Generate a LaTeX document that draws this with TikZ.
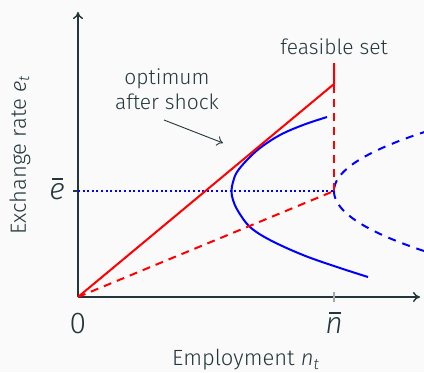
\documentclass[tikz,border=0pt]{standalone}
\usepackage{fontspec}
\setmainfont{Fira Sans}[UprightFont=* Light, ItalicFont=* Light Italic, BoldFont=* Medium]
\usetikzlibrary{arrows.meta}
\definecolor{bgc}{HTML}{FAFAFA}
\definecolor{axisc}{HTML}{23373B}
\definecolor{tickc}{HTML}{A8A8A8}
\newcommand\mvar[1]{\textit{#1}}
\newcommand\barvar[1]{\begingroup\setbox0\hbox{\textit{#1}}\dimen0=\wd0
  \vbox{\offinterlineskip\hbox to \dimen0{\hskip0.12\dimen0\hss\rule{0.72\dimen0}{0.055em}\hss}\kern0.12em\box0}\endgroup}
\tikzset{
  axisline/.style={draw=axisc, line width=0.7pt, -{To[length=3.5pt,width=5pt]}},
  redline/.style={draw=red, line width=1pt},
  reddash/.style={draw=red, line width=1pt, dash pattern=on 4pt off 3pt},
  blueline/.style={draw=blue, line width=1pt},
  bluedash/.style={draw=blue, line width=1pt, dash pattern=on 4pt off 3.5pt},
  bluedot/.style={draw=blue, line width=1.1pt, dash pattern=on 1pt off 1.3pt},
  ticklabel/.style={text=axisc, font=\fontsize{15}{17}\selectfont, inner sep=0pt},
  axislabel/.style={text=axisc, font=\fontsize{11}{13}\selectfont, inner sep=0pt},
  annot/.style={text=axisc, font=\fontsize{10.5}{12.5}\selectfont, inner sep=0pt, align=center},
  pointer/.style={draw=axisc, line width=0.45pt, -{To[length=3pt,width=5pt]}}
}
\begin{document}
\begin{tikzpicture}[x=0.5pt,y=-0.5pt]
\useasboundingbox (0,0) rectangle (424,372);
\fill[bgc] (0,0) rectangle (424,372);
\clip (0,0) rectangle (424,372);

% coordinates
\coordinate (O) at (78,297);
\coordinate (Ytop) at (78,12);
\coordinate (Xend) at (420,297);
\coordinate (K) at (334,84);
\coordinate (T) at (334,63);
\coordinate (E) at (334,191);
\coordinate (Y) at (78,191);
\coordinate (Yt) at (73,191);
\coordinate (Nt1) at (334,292);
\coordinate (Nt2) at (334,302);
\coordinate (ptail) at (164,120);
\coordinate (phead) at (223,143);

% axes
\draw[axisline] (O) -- (Ytop);
\draw[axisline] (O) -- (Xend);
\draw[draw=tickc, line width=0.6pt] (Nt1) -- (Nt2);
\draw[draw=axisc, line width=0.6pt] (Yt) -- (Y);

% blue dotted level
\draw[bluedot] (Y) -- (E);

% blue solid curve
\draw[blueline] plot[smooth, tension=0.6] coordinates {
 (327,117) (303,125) (280,135) (260,148) (247,160) (237,172) (233,182)
 (231.5,191) (233,200) (238,211) (250,227) (270,240) (303,255) (337,267) (368,277)};

% blue dashed curve
\draw[bluedash] plot[domain=-60:0, samples=40] ({334+0.026*(\x)^2},{191+\x});
\draw[bluedash] plot[domain=0:60, samples=40] ({334+0.025*(\x)^2},{191+\x});

% red lines
\draw[reddash] (O) -- (E);
\draw[reddash] (E) -- (K);
\draw[redline, line join=miter] (O) -- (K) -- (T);

% labels
\node[ticklabel] (ebar) at (57,189) {\barvar{e}};
\node[ticklabel] (zero) at (78,324) {0};
\node[ticklabel] (nbar) at (334,323) {\barvar{n}};
\node[axislabel] (xlab) at (246,360) {Employment \mvar{n}\textsubscript{\mvar{t}}};
\node[axislabel, rotate=90] (ylab) at (20,155) {Exchange rate \mvar{e}\textsubscript{\mvar{t}}};
\node[annot] (feas) at (334,47) {feasible set};
\node[annot] (opt) at (167,89) {optimum\\after shock};
\draw[pointer] (ptail) -- (phead);
\end{tikzpicture}
\end{document}
